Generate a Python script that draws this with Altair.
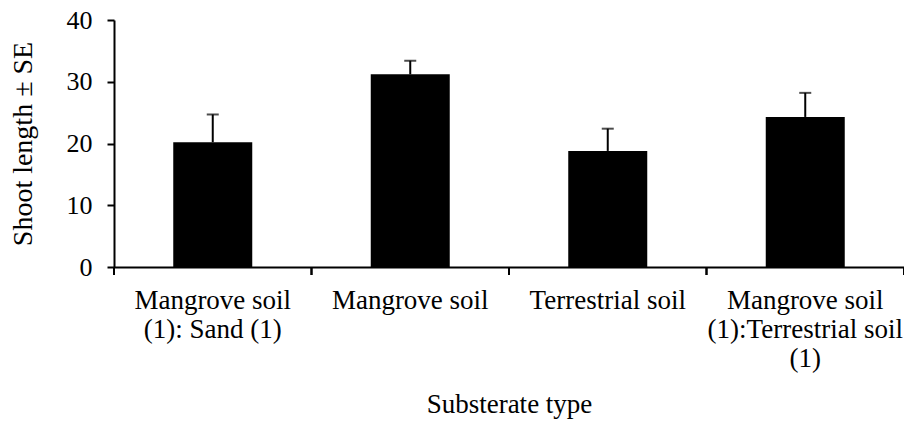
import altair as alt
import pandas as pd

categories = ["Mangrove soil|(1): Sand (1)", "Mangrove soil", "Terrestrial soil",
              "Mangrove soil|(1):Terrestrial soil|(1)"]
means = [20.2, 31.2, 18.8, 24.3]
se = [4.5, 2.2, 3.6, 3.9]

df = pd.DataFrame({"cat": categories, "mean": means, "se": se})
df["upper"] = df["mean"] + df["se"]

FONT = "'Liberation Serif', 'Times New Roman', Times, serif"
W, H = 790, 247

xscale = alt.Scale(paddingInner=0, paddingOuter=0)
xenc = alt.X("cat:N", sort=categories, scale=xscale,
             axis=alt.Axis(title="Substerate type", labelAngle=0, ticks=False,
                           labelExpr="split(datum.label, '|')",
                           labelFont=FONT, labelFontSize=27, labelColor="black",
                           labelLineHeight=29, labelLimit=0, labelPadding=20,
                           titleFont=FONT, titleFontSize=27, titleFontWeight="normal",
                           titleColor="black", titlePadding=20,
                           domainColor="black", domainWidth=2))
yenc = alt.Y("mean:Q", scale=alt.Scale(domain=[0, 40]),
             axis=alt.Axis(title="Shoot length ± SE", values=[0, 10, 20, 30, 40],
                           grid=False, labelFont=FONT, labelFontSize=26,
                           labelColor="black", labelPadding=15,
                           tickColor="black", tickSize=7, tickWidth=2,
                           domainColor="black", domainWidth=2,
                           titleFont=FONT, titleFontSize=28, titleFontWeight="normal",
                           titleColor="black", titlePadding=29))

base = alt.Chart(df)

bars = base.mark_bar(color="black", width=alt.RelativeBandSize(0.4)).encode(x=xenc, y=yenc)

err = base.mark_rule(color="black", strokeWidth=2).encode(
    x=alt.X("cat:N", sort=categories), y="mean:Q", y2="upper:Q")
cap = base.mark_tick(color="black", thickness=2, size=12, orient="horizontal").encode(
    x=alt.X("cat:N", sort=categories), y="upper:Q")

tick0 = base.mark_rule(color="black", strokeWidth=2).encode(
    x=alt.X("cat:N", sort=categories, bandPosition=0),
    y=alt.value(H), y2=alt.value(H + 8))
tick1 = base.mark_rule(color="black", strokeWidth=2).encode(
    x=alt.X("cat:N", sort=categories, bandPosition=1),
    y=alt.value(H), y2=alt.value(H + 8))

chart = alt.layer(bars, err, cap, tick0, tick1).properties(
    width=W, height=H,
    autosize=alt.AutoSizeParams(type="none"),
    padding={"left": 106, "top": 12, "right": 0, "bottom": 153},
    background="white",
).configure_view(stroke=None)

chart.save("out.html", embed_options={"renderer": "svg", "actions": False})
